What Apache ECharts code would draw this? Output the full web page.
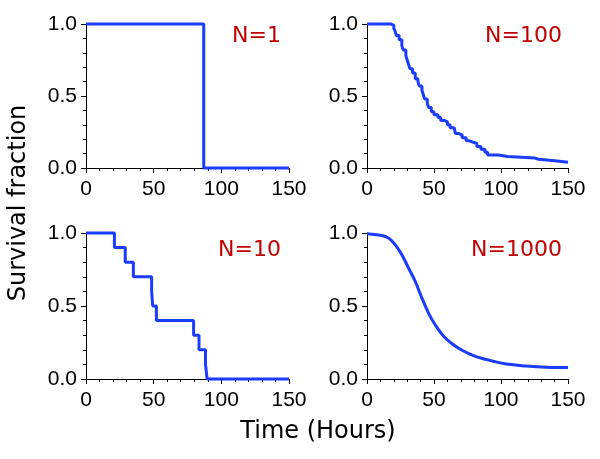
<!DOCTYPE html>
<html><head><meta charset="utf-8">
<script src="https://cdn.jsdelivr.net/npm/echarts@6/dist/echarts.min.js"></script>
<style>html,body{margin:0;padding:0;background:#fff}#c{width:600px;height:459px}</style>
</head><body><div id="c"></div>
<script>
// Panel titles
const panelTitles = ["N=1", "N=100", "N=10", "N=1000"];
// Survival curves: [time (hours), survival fraction]
const survN1 = [[0,1],[87,0],[150,0]];
const survN10 = [[0,1],[21,0.9],[29,0.8],[35,0.7],[48.5,0.6],[49.3,0.5],[52,0.4],[79.5,0.3],[83.5,0.2],[88.3,0.1],[89.5,0],[150,0]];
const survN100 = [[0,1],[18,1],[19,0.99],[20,0.97],[21,0.95],[22,0.92],[24,0.89],[26,0.85],[27,0.82],[29,0.78],[30,0.75],[31,0.72],[32,0.69],[34,0.66],[36,0.62],[38,0.6],[39,0.57],[41,0.54],[42,0.51],[43,0.48],[45,0.45],[46,0.42],[48,0.39],[50,0.37],[53,0.35],[55,0.33],[58,0.32],[60,0.3],[62,0.28],[65,0.27],[66,0.24],[68,0.23],[71,0.21],[74,0.19],[76,0.18],[79,0.17],[82,0.15],[85,0.13],[88,0.11],[90,0.09],[98,0.08],[105,0.07],[125,0.06],[128,0.05],[140,0.04],[150,0.04]];
const survN1000 = [[0,0.995],[10,0.984],[16,0.966],[21,0.92],[26,0.851],[31,0.76],[36,0.668],[41,0.554],[46,0.45],[51,0.37],[57,0.295],[63,0.245],[69,0.207],[75,0.178],[82,0.152],[94,0.122],[104,0.102],[119,0.089],[134,0.081],[150,0.078]];
// Axis ticks
const xMin = 0, xMax = 150, xStep = 50;
const yMin = 0, yMax = 1, yStep = 0.5;
const xAxisTitle = "Time (Hours)";
const yAxisTitle = "Survival fraction";

const grids = [
  {left: 86, top: 24, width: 203, height: 144},
  {left: 367, top: 24, width: 201, height: 144},
  {left: 86, top: 233, width: 203, height: 146},
  {left: 367, top: 233, width: 201, height: 146}
];
const data = [survN1, survN100, survN10, survN1000];
const steps = ['end', 'end', 'end', false];
const titleRight = [319, 38, 319, 38];
const titleTop = [25, 25, 239, 239];

const axisCommon = {
  axisLine: {show: true, onZero: false, lineStyle: {color: '#000', width: 1}},
  axisTick: {show: true, inside: false, length: 5, lineStyle: {color: '#000'}},
  minorTick: {show: true, splitNumber: 5, length: 3, lineStyle: {color: '#000'}},
  splitLine: {show: false},
  axisLabel: {color: '#000', fontFamily: '"Liberation Sans", Arial, sans-serif', fontSize: 21}
};

const option = {
  animation: false,
  backgroundColor: '#fff',
  grid: grids,
  xAxis: grids.map((g, i) => Object.assign({}, axisCommon, {
    type: 'value', gridIndex: i, min: xMin, max: xMax, interval: xStep,
    axisLabel: Object.assign({}, axisCommon.axisLabel, {margin: 11})
  })),
  yAxis: grids.map((g, i) => Object.assign({}, axisCommon, {
    type: 'value', gridIndex: i, min: yMin, max: yMax, interval: yStep,
    axisLabel: Object.assign({}, axisCommon.axisLabel, {margin: 9, formatter: v => v.toFixed(1)})
  })),
  series: data.map((d, i) => ({
    type: 'line', xAxisIndex: i, yAxisIndex: i, data: d, step: steps[i],
    smooth: steps[i] ? false : 0.4,
    showSymbol: false, symbol: 'none', clip: false,
    lineStyle: {color: '#1a3cff', width: 3}
  })),
  graphic: panelTitles.map((t, i) => ({
    type: 'text', right: titleRight[i], top: titleTop[i],
    style: {text: t, fill: '#c00000', font: '22px "DejaVu Sans"'}
  })).concat([
    {type: 'text', x: 318, y: 420,
     style: {text: xAxisTitle, fill: '#000', font: '24px "DejaVu Sans"', textAlign: 'center', textVerticalAlign: 'top'}},
    {type: 'text', rotation: Math.PI / 2, x: 7, y: 203,
     style: {text: yAxisTitle, fill: '#000', font: '24px "DejaVu Sans"', textAlign: 'center', textVerticalAlign: 'top'}}
  ])
};
echarts.init(document.getElementById('c'), null, {renderer: 'canvas'}).setOption(option);
</script></body></html>
